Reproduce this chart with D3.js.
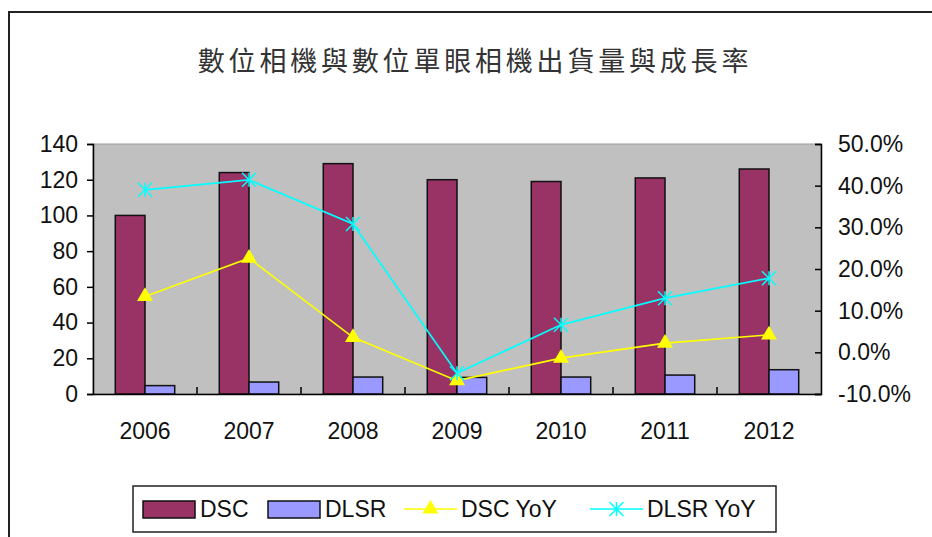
<!DOCTYPE html>
<html>
<head>
<meta charset="utf-8">
<script src="https://cdn.jsdelivr.net/npm/d3@7"></script>
<style>
  body { margin: 0; background: #fff; }
  text { font-family: "Liberation Sans", Arial, sans-serif; fill: #111; }
  .title { font-family: "Noto Sans CJK TC", sans-serif; fill: #333; }
</style>
</head>
<body>
<svg id="chart" width="932" height="537"></svg>
<script>
const years = ['2006', '2007', '2008', '2009', '2010', '2011', '2012'];
const dsc = [100, 124, 129, 120, 119, 121, 126];
const dlsr = [4.7, 6.7, 9.5, 9.3, 9.5, 10.6, 13.6];
const dscYoY = [13.4, 22.6, 3.6, -6.8, -1.4, 2.2, 4.2];
const dlsrYoY = [39.0, 41.4, 30.8, -5.0, 6.6, 13.0, 17.8];
const leftTicks = [0, 20, 40, 60, 80, 100, 120, 140];
const rightTicks = [-10, 0, 10, 20, 30, 40, 50];

const svg = d3.select('#chart');

const plot = { left: 93, right: 821, top: 144, bottom: 394 };
const fs = 23;

// outer chart border (cut off on right / bottom)
svg.append('path')
    .attr('d', 'M9,540 L9,12 L935,12')
    .attr('fill', 'none')
    .attr('stroke', '#222')
    .attr('stroke-width', 2);

svg.append('text')
    .attr('class', 'title')
    .attr('x', 475)
    .attr('y', 71)
    .attr('text-anchor', 'middle')
    .attr('font-size', 27)
    .attr('letter-spacing', 3.8)
    .text('數位相機與數位單眼相機出貨量與成長率');

const x0 = d3.scaleBand()
    .domain(years)
    .range([plot.left, plot.right]);

const bw = x0.bandwidth();
const x1 = d3.scaleBand()
    .domain(['DSC', 'DLSR'])
    .range([bw * 0.75 / 3.5, bw * 2.75 / 3.5]);

const yL = d3.scaleLinear().domain([0, 140]).range([plot.bottom, plot.top]);
const yR = d3.scaleLinear().domain([-10, 50]).range([plot.bottom, plot.top]);

// plot background
svg.append('rect')
    .attr('x', plot.left)
    .attr('y', plot.top)
    .attr('width', plot.right - plot.left)
    .attr('height', plot.bottom - plot.top)
    .attr('fill', '#c0c0c0')
    .attr('stroke', '#9a9a9a')
    .attr('stroke-width', 1);

// bars
const barData = [];
years.forEach((yr, i) => {
    barData.push({ year: yr, key: 'DSC', v: dsc[i] });
    barData.push({ year: yr, key: 'DLSR', v: dlsr[i] });
});
const barColor = { DSC: '#993366', DLSR: '#9999ff' };

svg.append('g')
    .selectAll('rect')
    .data(barData)
    .join('rect')
    .attr('x', d => x0(d.year) + x1(d.key))
    .attr('y', d => yL(d.v))
    .attr('width', x1.bandwidth())
    .attr('height', d => yL(0) - yL(d.v))
    .attr('fill', d => barColor[d.key])
    .attr('stroke', '#111')
    .attr('stroke-width', 1.5);

// left axis
const axL = svg.append('g')
    .attr('transform', `translate(${plot.left},0)`)
    .call(d3.axisLeft(yL).tickValues(leftTicks).tickSize(6).tickPadding(9));
axL.select('.domain').attr('stroke', '#000').attr('stroke-width', 1.5);
axL.selectAll('.tick line').attr('stroke', '#000').attr('stroke-width', 1.5);
axL.selectAll('text').attr('font-size', fs).attr('font-family', 'Liberation Sans, Arial, sans-serif');

// right axis
const axR = svg.append('g')
    .attr('transform', `translate(${plot.right},0)`)
    .call(d3.axisRight(yR).tickValues(rightTicks).tickSize(-6).tickPadding(17)
        .tickFormat(d => d.toFixed(1) + '%'));
axR.select('.domain').attr('stroke', '#000').attr('stroke-width', 1.5);
axR.selectAll('.tick line').attr('stroke', '#000').attr('stroke-width', 1.5);
axR.selectAll('text').attr('font-size', fs).attr('font-family', 'Liberation Sans, Arial, sans-serif');

// bottom axis
const axB = svg.append('g')
    .attr('transform', `translate(0,${plot.bottom})`)
    .call(d3.axisBottom(x0).tickSize(0).tickPadding(29));
axB.select('.domain').attr('stroke', '#000').attr('stroke-width', 1.5);
axB.selectAll('text').attr('font-size', fs).attr('font-family', 'Liberation Sans, Arial, sans-serif');
// category separators
svg.append('g')
    .selectAll('line')
    .data(years.slice(1))
    .join('line')
    .attr('x1', d => x0(d))
    .attr('x2', d => x0(d))
    .attr('y1', plot.bottom)
    .attr('y2', plot.bottom - 7)
    .attr('stroke', '#000')
    .attr('stroke-width', 1.5);

const cx = d => x0(d) + bw / 2;

// DSC YoY line
const lineDsc = d3.line().x((d, i) => cx(years[i])).y(d => yR(d));
svg.append('path')
    .datum(dscYoY)
    .attr('d', lineDsc)
    .attr('fill', 'none')
    .attr('stroke', '#ffff00')
    .attr('stroke-width', 1.7);

const tri = d3.symbol().type(d3.symbolTriangle).size(110);
svg.append('g')
    .selectAll('path')
    .data(dscYoY)
    .join('path')
    .attr('d', tri)
    .attr('transform', (d, i) => `translate(${cx(years[i])},${yR(d)})`)
    .attr('fill', '#ffff00');

// DLSR YoY line
svg.append('path')
    .datum(dlsrYoY)
    .attr('d', lineDsc)
    .attr('fill', 'none')
    .attr('stroke', '#00ffff')
    .attr('stroke-width', 1.7);

function starMarker(g, r) {
    g.append('line').attr('x1', -r).attr('y1', -r).attr('x2', r).attr('y2', r);
    g.append('line').attr('x1', -r).attr('y1', r).attr('x2', r).attr('y2', -r);
    g.append('line').attr('x1', 0).attr('y1', -r).attr('x2', 0).attr('y2', r);
}

svg.append('g')
    .selectAll('g')
    .data(dlsrYoY)
    .join('g')
    .attr('transform', (d, i) => `translate(${cx(years[i])},${yR(d)})`)
    .attr('stroke', '#00ffff')
    .attr('stroke-width', 1.5)
    .each(function () { starMarker(d3.select(this), 7); });

// legend
const legend = svg.append('g');
legend.append('rect')
    .attr('x', 133)
    .attr('y', 486)
    .attr('width', 643)
    .attr('height', 46)
    .attr('fill', '#fff')
    .attr('stroke', '#222')
    .attr('stroke-width', 1.5);

const legItems = [
    { label: 'DSC', type: 'bar', color: '#993366', x: 143 },
    { label: 'DLSR', type: 'bar', color: '#9999ff', x: 268 },
    { label: 'DSC YoY', type: 'tri', color: '#ffff00', x: 404 },
    { label: 'DLSR YoY', type: 'star', color: '#00ffff', x: 590 }
];
const ly = 509;
legItems.forEach(it => {
    const g = legend.append('g');
    if (it.type === 'bar') {
        g.append('rect')
            .attr('x', it.x).attr('y', ly - 8)
            .attr('width', 52).attr('height', 17)
            .attr('fill', it.color)
            .attr('stroke', '#111').attr('stroke-width', 1.5);
    } else {
        g.append('line')
            .attr('x1', it.x).attr('x2', it.x + 53)
            .attr('y1', ly).attr('y2', ly)
            .attr('stroke', it.color).attr('stroke-width', 1.7);
        if (it.type === 'tri') {
            g.append('path')
                .attr('d', tri)
                .attr('transform', `translate(${it.x + 26.5},${ly})`)
                .attr('fill', it.color);
        } else {
            const s = g.append('g')
                .attr('transform', `translate(${it.x + 26.5},${ly})`)
                .attr('stroke', it.color).attr('stroke-width', 1.5);
            starMarker(s, 7);
        }
    }
    g.append('text')
        .attr('x', it.x + 57)
        .attr('y', ly + 8)
        .attr('font-size', fs)
        .text(it.label);
});
</script>
</body>
</html>
